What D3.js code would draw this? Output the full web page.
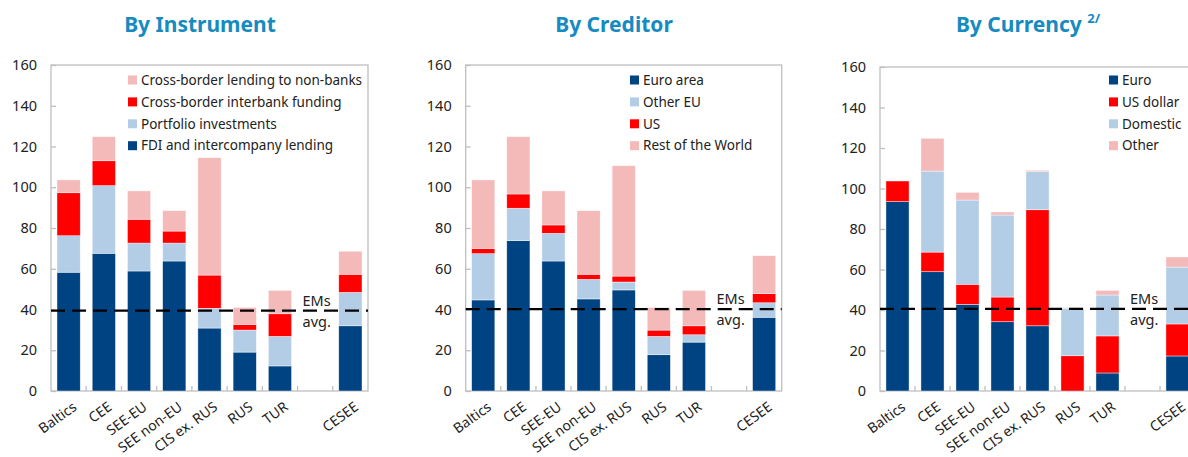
<!DOCTYPE html>
<html>
<head>
<meta charset="utf-8">
<script src="https://cdn.jsdelivr.net/npm/d3@7"></script>
<style>
  body { margin: 0; background: #fff; }
  svg { font-family: "Noto Sans", "Open Sans", sans-serif; }
</style>
</head>
<body>
<div id="chart-area"></div>
<script>
const categories = ["Baltics", "CEE", "SEE-EU", "SEE non-EU", "CIS ex. RUS", "RUS", "TUR", "", "CESEE"]
const yTicks = [0, 20, 40, 60, 80, 100, 120, 140, 160]

// by instrument (stack order bottom -> top)
const fdi       = [58.3, 67.6, 58.9, 63.8, 30.9, 19.1, 12.3, 0, 32.0]
const portfolio = [17.9, 33.2, 13.7,  8.8,  9.7, 10.8, 14.5, 0, 16.4]
const interbank = [21.1, 12.2, 11.7,  5.9, 16.3,  2.8, 11.1, 0,  8.9]
const nonbanks  = [ 6.3, 11.8, 13.9, 10.0, 57.6,  8.3, 11.5, 0, 11.3]

// by creditor
const euroArea = [44.7, 73.8, 63.8, 45.2, 49.6, 17.8, 24.0, 0, 36.2]
const otherEU  = [22.7, 15.9, 13.6,  9.6,  3.9,  9.0,  3.6, 0,  7.1]
const us       = [ 2.6,  7.0,  4.1,  2.5,  2.9,  3.1,  4.4, 0,  4.5]
const restWorld= [33.6, 28.1, 16.7, 31.2, 54.2, 11.1, 17.4, 0, 18.6]

// by currency
const euro     = [93.5, 58.9, 42.8, 34.2, 32.2,  0.0,  8.9, 0, 17.3]
const usDollar = [10.2,  9.7,  9.9, 12.2, 57.3, 17.4, 18.3, 0, 15.8]
const domestic = [ 0.0, 40.0, 41.6, 40.5, 18.8, 23.4, 20.2, 0, 28.1]
const otherCur = [ 0.0, 16.2,  3.8,  1.5,  0.7,  0.4,  2.3, 0,  5.0]

const emAvg = [39.4, 40.2, 40.6]

const C = { navy: "#004382", light: "#b3cde6", red: "#ff0000", pink: "#f4b9b9" }

const panels = [
  { title: "By Instrument", sup: null, x0: 51, x1: 368, top: 65, bot: 391, titleX: 200, legX: 128,
    series: [
      { name: "FDI and intercompany lending", values: fdi, color: C.navy },
      { name: "Portfolio investments", values: portfolio, color: C.light },
      { name: "Cross-border interbank funding", values: interbank, color: C.red },
      { name: "Cross-border lending to non-banks", values: nonbanks, color: C.pink }
    ], legendReversed: true },
  { title: "By Creditor", sup: null, x0: 465.7, x1: 781.7, top: 65, bot: 391, titleX: 614, legX: 630,
    series: [
      { name: "Euro area", values: euroArea, color: C.navy },
      { name: "Other EU", values: otherEU, color: C.light },
      { name: "US", values: us, color: C.red },
      { name: "Rest of the World", values: restWorld, color: C.pink }
    ], legendReversed: false },
  { title: "By Currency ", sup: "2/", x0: 880, x1: 1195, top: 67, bot: 391, titleX: 1028, legX: 1109,
    series: [
      { name: "Euro", values: euro, color: C.navy },
      { name: "US dollar", values: usDollar, color: C.red },
      { name: "Domestic", values: domestic, color: C.light },
      { name: "Other", values: otherCur, color: C.pink }
    ], legendReversed: false }
]

const svg = d3.select("#chart-area").append("svg")
  .attr("width", 1188)
  .attr("height", 457)

panels.forEach((p, pi) => {
  const g = svg.append("g")

  // title
  const t = g.append("text")
    .attr("x", p.titleX)
    .attr("y", 32)
    .attr("text-anchor", "middle")
    .attr("font-size", "21px")
    .attr("font-weight", "bold")
    .attr("fill", "#168bc1")
    .text(p.title)
  if (p.sup) {
    t.append("tspan")
      .attr("font-size", "13px")
      .attr("dy", -9)
      .text(p.sup)
  }

  const x = d3.scaleBand().domain(categories).range([p.x0, p.x1]).paddingInner(0.34).paddingOuter(0.17)
  const y = d3.scaleLinear().domain([0, 160]).range([p.bot, p.top])
  const step = (p.x1 - p.x0) / categories.length

  // frame
  g.append("rect")
    .attr("x", p.x0).attr("y", p.top)
    .attr("width", p.x1 - p.x0).attr("height", p.bot - p.top)
    .attr("fill", "none").attr("stroke", "#bfbfbf").attr("stroke-width", 1.3)

  // y axis, ticks pointing inward
  const yAxis = g.append("g")
    .attr("transform", `translate(${p.x0},0)`)
    .call(d3.axisRight(y).tickValues(yTicks).tickSize(5).tickFormat(""))
  yAxis.select(".domain").remove()
  yAxis.selectAll("line").attr("stroke", "#bfbfbf").attr("stroke-width", 1.3)
  g.selectAll(".ylab")
    .data(yTicks)
    .enter().append("text")
    .attr("x", p.x0 - 14)
    .attr("y", d => y(d))
    .attr("dy", "0.35em")
    .attr("text-anchor", "end")
    .attr("font-size", "14.5px")
    .attr("fill", "#222")
    .text(d => d)

  // x ticks at slot boundaries, pointing up
  const bounds = d3.range(1, categories.length)
  g.selectAll(".xtick")
    .data(bounds)
    .enter().append("line")
    .attr("x1", i => p.x0 + i * step).attr("x2", i => p.x0 + i * step)
    .attr("y1", p.bot).attr("y2", p.bot - 5)
    .attr("stroke", "#bfbfbf").attr("stroke-width", 1.3)

  // stacked bars
  const table = categories.map((c, i) => {
    const row = { cat: c }
    p.series.forEach(s => { row[s.name] = s.values[i] })
    return row
  })
  const stacked = d3.stack().keys(p.series.map(s => s.name))(table)
  g.selectAll(".layer")
    .data(stacked)
    .enter().append("g")
    .attr("fill", (d, i) => p.series[i].color)
    .selectAll("rect")
    .data(d => d.filter(v => v.data.cat !== "" && v[1] - v[0] > 0))
    .enter().append("rect")
    .attr("x", d => x(d.data.cat))
    .attr("width", x.bandwidth())
    .attr("y", d => y(d[1]))
    .attr("height", d => y(d[0]) - y(d[1]))
    .attr("stroke", "#fff").attr("stroke-width", 0.6).attr("stroke-opacity", 0.7)

  // x labels
  g.selectAll(".xlab")
    .data(categories.filter(c => c !== ""))
    .enter().append("text")
    .attr("transform", d => `translate(${x(d) + x.bandwidth() / 2 + 9},409) rotate(-36)`)
    .attr("text-anchor", "end")
    .attr("font-size", "14px")
    .attr("fill", "#222")
    .text(d => d)

  // EMs average line
  const ay = y(emAvg[pi])
  g.append("line")
    .attr("x1", p.x0).attr("x2", p.x1)
    .attr("y1", ay).attr("y2", ay)
    .attr("stroke", "#000").attr("stroke-width", 2.2)
    .attr("stroke-dasharray", "14,7")
  const lx = p.x0 + 7 * step + 5
  g.append("text").attr("x", lx).attr("y", ay - 5)
    .attr("font-size", "14.5px").attr("fill", "#222").text("EMs")
  g.append("text").attr("x", lx).attr("y", ay + 16)
    .attr("font-size", "14.5px").attr("fill", "#222").text("avg.")

  // legend
  const leg = p.legendReversed ? p.series.slice().reverse() : p.series
  const li = g.selectAll(".leg")
    .data(leg)
    .enter().append("g")
    .attr("transform", (d, i) => `translate(${p.legX},${80 + i * 21.9})`)
  li.append("rect")
    .attr("x", 0).attr("y", -4.5)
    .attr("width", 9).attr("height", 9)
    .attr("fill", d => d.color)
  li.append("text")
    .attr("x", 13).attr("y", 0)
    .attr("dy", "0.35em")
    .attr("font-size", "13.5px")
    .attr("fill", "#222")
    .text(d => d.name)
})
</script>
</body>
</html>
